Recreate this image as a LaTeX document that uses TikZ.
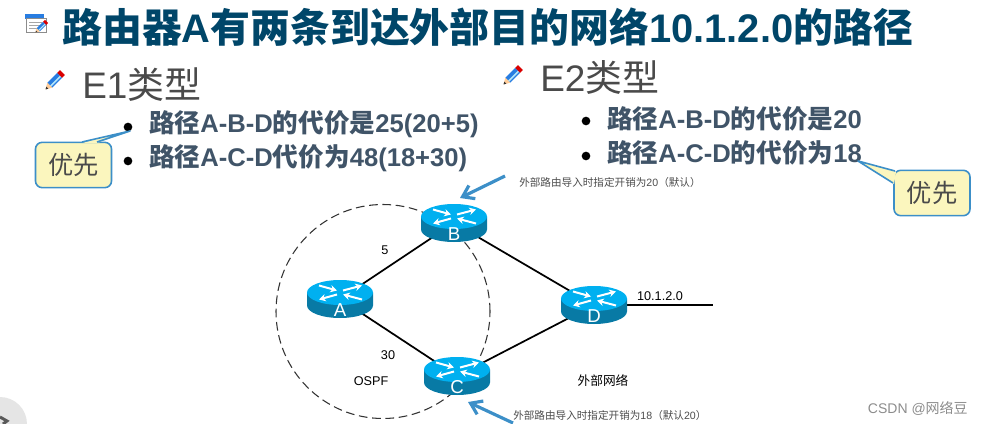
\documentclass[tikz,border=0pt]{standalone}
\usepackage{fontspec}
\setmainfont{Liberation Sans}
\newfontfamily\cjk{Noto Sans CJK SC}
\usetikzlibrary{arrows.meta,backgrounds,calc,shapes.geometric}
\definecolor{titleblue}{RGB}{0,70,105}
\definecolor{itemgray}{RGB}{64,84,104}
\definecolor{headgray}{RGB}{74,74,74}
\definecolor{arrowblue}{RGB}{60,143,200}
\definecolor{noteyellow}{RGB}{251,246,190}
\definecolor{routertop}{RGB}{0,176,240}
\definecolor{routerside}{RGB}{8,122,165}
\definecolor{pencilblue}{RGB}{40,125,225}
\tikzset{
  headline/.style={anchor=west,text=titleblue,font=\bfseries\fontsize{29.9}{29.9}\selectfont,inner sep=0},
  typehead/.style={anchor=west,text=headgray,font=\fontsize{27.7}{27.7}\selectfont,inner sep=0},
  pathitem/.style={anchor=west,text=itemgray,font=\bfseries\fontsize{19.2}{19.2}\selectfont,inner sep=0},
  itemdot/.style={circle,fill=black,inner sep=0,minimum size=6.5pt},
  prefernote/.style={draw=arrowblue,fill=noteyellow,line width=1.2pt,rounded corners=5pt,inner sep=0,
    minimum width=57pt,minimum height=34pt,text=headgray,font=\fontsize{19}{19}\selectfont},
  notetail/.style={draw=arrowblue,line width=1.2pt,line join=round},
  routernode/.style={ellipse,inner sep=0,minimum width=49.5pt,minimum height=28.5pt},
  routername/.style={text=white,font=\fontsize{14}{14}\selectfont,inner sep=0},
  routerarrow/.style={white,line width=1.5pt,-{Stealth[length=5pt,width=5.5pt]}},
  netlink/.style={line width=1.3pt,black},
  smalllabel/.style={font=\fontsize{9.5}{9.5}\selectfont,inner sep=0},
  costnote/.style={anchor=west,text=black!70,font=\fontsize{7.95}{7.95}\selectfont,inner sep=0},
  pointer/.style={arrowblue,line width=2.4pt,-{Straight Barb[length=8pt,width=11pt]}}
}
\newcommand{\router}[3]{
  \begin{scope}[shift={(#2)}]
    \fill[routerside] (-33,-6.5) -- (-33,6.5) arc[start angle=180,end angle=0,x radius=33,y radius=12.5] -- (33,-6.5) -- cycle;
    \fill[routertop] (0,-6.5) ellipse[x radius=33,y radius=12.5];
    \draw[routerarrow] (-21,-13.5) -- (-3,-8.5);
    \draw[routerarrow] (3,-8.5) -- (22,-13.5);
    \draw[routerarrow] (-3,-4.5) -- (-21,0.5);
    \draw[routerarrow] (22,0.5) -- (3,-4.5);
  \end{scope}
  \node[routernode] (#1) at (#2) {};
  \node[routername] (#1name) at ($(#1)+(0,11)$) {#3};
}
\newcommand{\pencilicon}[2]{
  \begin{scope}[shift={(#1)},rotate=45,scale=#2]
    \fill[pencilblue] (-6,-3.5) rectangle (8,3.5);
    \fill[cyan!30] (-6,0.5) rectangle (8,2);
    \fill[red!85!black] (8,-3.5) rectangle (12,3.5);
    \fill[orange!40] (-6,-3.5) -- (-12,0) -- (-6,3.5) -- cycle;
    \fill[black!80] (-9.5,-1.4) -- (-12,0) -- (-9.5,1.4) -- cycle;
  \end{scope}
}
\begin{document}
\begin{tikzpicture}[x=0.75pt,y=-0.75pt]
  \useasboundingbox (0,0) rectangle (984,424);
  \fill[black!10] (0,424) circle[radius=27];
  \draw[black!65,line width=2.2pt] (0,417) -- (7,421) -- (3,424);
  % title
  \fill[pencilblue] (25,14) rectangle (44,19);
  \draw[black!45,fill=white] (26,18) rectangle (46,32);
  \foreach \y in {22,25,28}
    \draw[black!35] (29,\y) -- (42,\y);
  \pencilicon{41,27}{0.65}
  \node[headline] (title) at (62,27) {{\cjk 路由器}A{\cjk 有两条到达外部目的网络}10.1.2.0{\cjk 的路径}};
  % left list
  \pencilicon{54,81}{1}
  \node[typehead] (eone) at (82,84) {E1{\cjk 类型}};
  \node[itemdot] (dota) at (128,127) {};
  \node[itemdot] (dotb) at (128,161) {};
  \node[pathitem] (itema) at (149,124) {{\cjk 路径}A-B-D{\cjk 的代价是}25(20+5)};
  \node[pathitem] (itemb) at (149,158) {{\cjk 路径}A-C-D{\cjk 代价为}48(18+30)};
  % right list
  \pencilicon{512,76}{1}
  \node[typehead] (etwo) at (540,77) {E2{\cjk 类型}};
  \node[itemdot] (dotc) at (586,121) {};
  \node[itemdot] (dotd) at (586,156) {};
  \node[pathitem] (itemc) at (607,119) {{\cjk 路径}A-B-D{\cjk 的代价是}20};
  \node[pathitem] (itemd) at (607,153) {{\cjk 路径}A-C-D{\cjk 的代价为}18};
  % notes
  \node[prefernote] (noteleft) at (73.5,165) {\cjk 优先};
  \node[prefernote] (noteright) at (932,193) {\cjk 优先};
  \coordinate (tipleft) at (130,131);
  \coordinate (tipright) at (858,161);
  \fill[noteyellow] (82,143) -- (tipleft) -- (97,143) -- cycle;
  \draw[notetail] (82,142) -- (tipleft) -- (97,142);
  \fill[noteyellow] (896,172) -- (tipright) -- (894,184) -- cycle;
  \draw[notetail] (895,171) -- (tipright) -- (893,183);
  % network
  \router{A}{340,299}{A}
  \router{B}{454,223}{B}
  \router{C}{457,376}{C}
  \router{D}{594,305}{D}
  \coordinate (stub) at (713,305);
  \begin{scope}[on background layer]
    \node[circle,draw=black!80,dash pattern=on 6.5pt off 3.5pt,line width=0.8pt,inner sep=0,minimum size=160.5pt] (area) at (383,311.5) {};
    \draw[netlink] (A) -- (B);
    \draw[netlink] (A) -- (C);
    \draw[netlink] (B) -- (D);
    \draw[netlink] (C) -- (D);
    \draw[netlink] (D) -- (stub);
  \end{scope}
  \node[smalllabel] (costab) at (385,250) {5};
  \node[smalllabel] (costac) at (388,355) {30};
  \node[smalllabel] (ospf) at (371,381) {OSPF};
  \node[smalllabel] (prefix) at (660,296) {10.1.2.0};
  \node[smalllabel] (extnet) at (603,381) {\cjk 外部网络};
  \node[costnote] (noteb) at (519,182) {{\cjk 外部路由导入时指定开销为}20{\cjk （默认）}};
  \node[costnote] (notec) at (513,415) {{\cjk 外部路由导入时指定开销为}18{\cjk （默认}20{\cjk ）}};
  \coordinate (fromb) at (505,176);
  \coordinate (toB) at (460,198);
  \coordinate (fromc) at (513,423);
  \coordinate (toC) at (468,402);
  \draw[pointer] (fromb) -- (toB);
  \draw[pointer] (fromc) -- (toC);
  \node[anchor=east,text=black!45,font=\fontsize{10.5}{10.5}\selectfont,inner sep=0] (mark) at (968,408) {CSDN @{\cjk 网络豆}};
\end{tikzpicture}
\end{document}
